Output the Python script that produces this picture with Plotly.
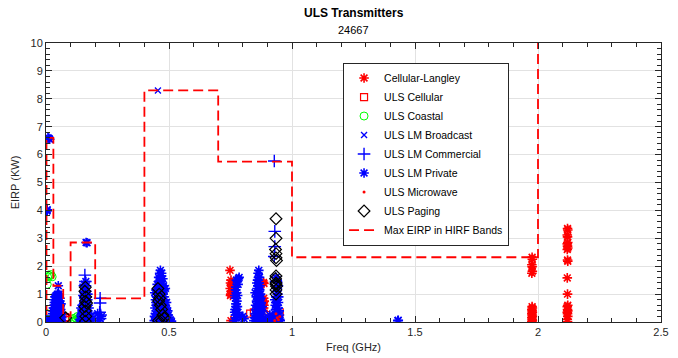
import plotly.graph_objects as go

# ---------------- data ----------------
langley_x = [0.748, 0.752, 0.750, 0.754, 0.749, 0.753, 0.751, 0.750, 0.752,
             0.884, 0.886, 0.885, 0.887, 0.884, 0.886, 0.885,
             1.976, 1.977, 1.975, 1.976, 1.977, 1.975, 1.976, 1.977, 1.975,
             1.976, 1.977, 1.975, 1.976, 1.977, 1.975, 1.976, 1.977, 1.975,
             2.120, 2.121, 2.119, 2.120, 2.121, 2.119, 2.120, 2.121, 2.119,
             2.120, 2.121, 2.119, 2.120, 2.121, 2.119, 2.120, 2.121, 2.119,
             2.120, 2.121, 2.119, 2.120]
langley_y = [1.85, 1.50, 1.40, 1.35, 1.20, 1.10, 1.00, 0.95, 0.05,
             1.42, 1.38, 0.85, 0.75, 0.70, 0.60, 0.50,
             2.32, 2.25, 2.05, 1.98, 1.82, 1.75, 0.55, 0.50, 0.45,
             0.40, 0.35, 0.30, 0.25, 0.20, 0.15, 0.10, 0.05, 0.02,
             3.35, 3.30, 3.12, 3.05, 2.85, 2.80, 2.72, 2.65, 2.60,
             2.22, 2.18, 1.58, 1.00, 0.60, 0.55, 0.45, 0.40, 0.35,
             0.30, 0.20, 0.10, 0.02]

cellular_x = [0.077, 0.082, 0.830, 0.845, 0.860, 0.875, 0.885, 0.895, 0.940, 0.950, 0.945]
cellular_y = [0.18, 0.15, 0.30, 0.35, 0.22, 0.38, 0.30, 0.25, 0.10, 0.35, 0.05]

coastal_x = [0.003, 0.004, 0.005, 0.006, 0.010, 0.015, 0.020, 0.025,
             0.110, 0.115, 0.120, 0.125, 0.130, 0.135, 0.140, 0.128, 0.138, 0.145, 0.118]
coastal_y = [0.30, 0.10, 1.35, 1.62, 1.68, 1.65, 1.70, 1.62,
             0.12, 0.05, 0.15, 0.08, 0.05, 0.12, 0.03, 0.20, 0.08, 0.05, 0.02]

broadcast_x = [0.455, 0.010]
broadcast_y = [8.30, 6.60]

commercial_x = [0.928, 0.930, 0.930, 0.928, 0.935, 0.158, 0.160, 0.158,
                0.220, 0.220, 0.218, 0.222, 0.220, 0.160]
commercial_y = [5.77, 3.25, 2.70, 2.35, 1.45, 1.68, 1.45, 1.30,
                0.85, 0.68, 0.35, 0.25, 0.12, 0.90]

private_x = [0.003, 0.005, 0.004, 0.008, 0.012, 0.015, 0.002, 0.003, 0.004,
             # 0.02-0.07 GHz cluster
             0.025, 0.030, 0.028, 0.032, 0.035, 0.038, 0.040, 0.042, 0.045, 0.048,
             0.050, 0.052, 0.055, 0.058, 0.060, 0.062, 0.064, 0.040, 0.045, 0.050,
             0.055, 0.060, 0.035, 0.048, 0.052, 0.058, 0.050, 0.033, 0.043, 0.057,
             0.022, 0.027, 0.030, 0.034, 0.037, 0.041, 0.046, 0.053, 0.056, 0.061,
             0.063, 0.066, 0.036, 0.044, 0.049, 0.054, 0.039, 0.047, 0.052, 0.059,
             # 0.14-0.19 GHz cluster
             0.140, 0.145, 0.150, 0.155, 0.160, 0.162, 0.165, 0.170, 0.175, 0.178,
             0.142, 0.148, 0.152, 0.158, 0.168, 0.172, 0.155, 0.160, 0.165, 0.150,
             0.170, 0.163, 0.167,
             0.138, 0.143, 0.147, 0.153, 0.157, 0.161, 0.164, 0.166, 0.169, 0.173,
             0.176, 0.180, 0.156, 0.159, 0.163, 0.154, 0.184, 0.186,
             0.215, 0.220, 0.225, 0.210,
             # 0.44-0.51 GHz cluster
             0.440, 0.445, 0.450, 0.450, 0.455, 0.460, 0.465, 0.465, 0.470, 0.475,
             0.460, 0.470, 0.475, 0.480, 0.485, 0.490, 0.495, 0.500, 0.505, 0.510,
             0.445, 0.455, 0.465, 0.470, 0.480, 0.485, 0.490, 0.452, 0.442, 0.478,
             0.495, 0.448,
             0.441, 0.443, 0.447, 0.449, 0.451, 0.454, 0.457, 0.459, 0.461, 0.463,
             0.466, 0.468, 0.469, 0.472, 0.474, 0.476, 0.479, 0.482, 0.484, 0.487,
             0.489, 0.492, 0.497, 0.502, 0.458, 0.462, 0.467, 0.480, 0.472,
             # 0.76-0.79 GHz column
             0.765, 0.770, 0.768, 0.772, 0.770, 0.775, 0.772, 0.778, 0.782, 0.785,
             0.775, 0.778, 0.780, 0.768, 0.776, 0.771,
             0.767, 0.773, 0.779, 0.781, 0.774,
             0.795, 0.805, 0.800,
             # 0.845-0.88 GHz cluster
             0.845, 0.850, 0.852, 0.855, 0.858, 0.860, 0.862, 0.865, 0.868, 0.870,
             0.872, 0.875, 0.878, 0.880, 0.850, 0.855, 0.860, 0.865, 0.870, 0.857,
             0.863, 0.867, 0.873,
             0.848, 0.853, 0.856, 0.859, 0.861, 0.864, 0.866, 0.869, 0.871, 0.874,
             0.877, 0.879, 0.862, 0.868,
             0.900, 0.905, 0.910, 0.915, 0.920,
             # 0.925-0.95 GHz cluster
             0.925, 0.930, 0.932, 0.935, 0.937, 0.940, 0.935, 0.942, 0.945, 0.948,
             0.950, 0.940, 0.930, 0.945,
             0.927, 0.933, 0.936, 0.938, 0.941, 0.943, 0.946, 0.949, 0.952, 0.938,
             1.430, 1.432]
private_y = [4.00, 4.02, 3.98, 6.60, 6.58, 6.55, 0.05, 0.10, 0.02,
             0.05, 0.20, 0.40, 0.60, 0.10, 0.30, 0.50, 0.70, 0.85, 0.95,
             1.00, 0.90, 0.75, 0.60, 0.45, 0.30, 0.15, 0.02, 0.25, 0.40,
             0.20, 0.05, 0.45, 0.65, 0.55, 0.35, 1.30, 0.80, 0.12, 0.85,
             0.10, 0.30, 0.50, 0.70, 0.90, 0.95, 1.00, 0.98, 0.50, 0.65,
             0.05, 0.20, 0.25, 0.40, 0.15, 0.35, 0.60, 0.80, 0.70, 0.20,
             0.05, 0.30, 0.60, 0.90, 1.20, 1.45, 1.10, 0.80, 0.50, 0.20,
             0.50, 0.15, 0.40, 0.70, 0.35, 0.05, 1.35, 0.25, 0.60, 0.95,
             1.00, 2.85, 2.84,
             0.10, 0.25, 0.45, 0.65, 0.85, 1.05, 1.30, 0.90, 0.60, 0.30,
             0.10, 0.05, 0.50, 0.15, 0.75, 1.10, 0.20, 0.05,
             0.05, 0.12, 0.20, 0.30,
             0.05, 0.30, 0.60, 0.90, 1.20, 1.45, 1.65, 1.85, 1.75, 1.55,
             1.00, 0.70, 0.40, 0.15, 0.50, 0.25, 0.05, 0.15, 0.08, 0.03,
             0.80, 0.45, 0.20, 1.10, 0.90, 1.20, 0.70, 1.35, 1.05, 1.30,
             0.40, 0.15,
             0.20, 0.50, 0.70, 1.00, 1.15, 0.35, 0.65, 0.85, 1.25, 0.10,
             0.55, 0.35, 0.95, 0.60, 0.20, 1.00, 0.50, 0.30, 0.70, 0.10,
             0.45, 0.15, 0.25, 0.05, 1.60, 1.75, 1.50, 1.15, 1.35,
             0.05, 0.25, 0.45, 0.65, 0.85, 1.05, 1.25, 1.45, 1.55, 1.60,
             0.15, 0.55, 0.35, 0.95, 0.75, 1.15,
             0.35, 0.55, 0.95, 1.35, 1.50,
             0.15, 0.12, 0.20,
             0.05, 0.30, 0.60, 0.90, 1.20, 1.50, 1.75, 1.85, 1.60, 1.30,
             1.00, 0.70, 0.40, 0.10, 1.05, 0.15, 0.45, 0.75, 0.20, 1.40,
             1.10, 0.55, 0.85,
             0.15, 0.45, 0.75, 1.00, 1.30, 1.60, 1.40, 1.15, 0.85, 0.55,
             0.25, 0.55, 0.05, 0.35,
             0.05, 0.15, 0.25, 0.10, 0.02,
             0.05, 0.30, 0.60, 0.90, 1.20, 1.50, 1.60, 1.00, 0.70, 0.40,
             0.10, 0.20, 0.80, 1.30,
             0.20, 0.45, 0.70, 1.10, 1.40, 0.50, 0.90, 0.25, 0.05, 0.05,
             0.05, 0.06]

microwave_x = [0.935, 0.940, 0.945, 0.930, 0.950]
microwave_y = [0.30, 0.15, 0.08, 0.05, 0.20]

paging_x = [0.080, 0.160, 0.158, 0.162, 0.160, 0.165, 0.158, 0.160, 0.162, 0.160,
            0.455, 0.460, 0.462, 0.458, 0.465, 0.470, 0.475, 0.480, 0.470, 0.458,
            0.935, 0.935, 0.933, 0.935, 0.935, 0.937, 0.935, 0.933, 0.935, 0.935,
            0.937, 0.935, 0.935]
paging_y = [0.15, 1.25, 1.10, 0.90, 0.75, 0.68, 0.55, 0.40, 0.20, 0.03,
            1.20, 1.00, 0.85, 0.75, 0.60, 0.45, 0.25, 0.15, 0.05, 0.05,
            3.70, 3.00, 2.60, 2.45, 2.30, 2.20, 1.65, 1.55, 1.40, 1.35,
            1.28, 1.15, 1.00]

# HIRF band edges (GHz) and max EIRP (KW) per band (step line, drawn 'hv')
hirf_x = [0.002, 0.002, 0.03, 0.07, 0.10, 0.20, 0.40, 0.70, 1.00, 2.00]
hirf_y = [0.25, 6.60, 1.30, 0.20, 2.85, 0.85, 8.30, 5.75, 2.32, 20.0]

x_ticks = [0, 0.5, 1, 1.5, 2, 2.5]
x_tick_labels = ["0", "0.5", "1", "1.5", "2", "2.5"]
y_ticks = list(range(0, 11))

# ---------------- figure ----------------
RED, BLUE, GREEN, BLACK = "#ff0000", "#0000ff", "#00ff00", "#000000"
FONT = "Liberation Sans, Arial, Helvetica, sans-serif"

fig = go.Figure()

def add(name, x, y, symbol, color, size, lw=1.0):
    marker = dict(symbol=symbol, size=size, color=color,
                  line=dict(color=color, width=lw))
    fig.add_trace(go.Scatter(x=x, y=y, mode="markers", name=name, marker=marker,
                             cliponaxis=True))

add("Cellular-Langley", langley_x, langley_y, "asterisk-open", RED, 8, 1.6)
add("ULS Cellular", cellular_x, cellular_y, "square-open", RED, 7, 1.2)
add("ULS Coastal", coastal_x, coastal_y, "circle-open", GREEN, 8, 1.0)
add("ULS LM Broadcast", broadcast_x, broadcast_y, "x-thin-open", BLUE, 6, 1.3)
add("ULS LM Commercial", commercial_x, commercial_y, "cross-thin-open", BLUE, 9, 1.4)
add("ULS LM Private", private_x, private_y, "asterisk-open", BLUE, 8, 1.6)
add("ULS Microwave", microwave_x, microwave_y, "circle", RED, 3, 0)
add("ULS Paging", paging_x, paging_y, "diamond-open", BLACK, 9, 1.2)

fig.add_trace(go.Scatter(x=hirf_x, y=hirf_y, mode="lines", name="Max EIRP in HIRF Bands",
                         line=dict(color=RED, width=1.8, dash="10px,5px", shape="hv")))

axis_common = dict(
    showline=True, linecolor="#262626", linewidth=1, mirror="ticks",
    ticks="inside", ticklen=6, tickcolor="#262626", tickwidth=1,
    showgrid=True, gridcolor="#e2e2e2", gridwidth=1, zeroline=False,
    tickfont=dict(family=FONT, size=11, color="#262626"),
    automargin=False,
)

fig.update_xaxes(range=[0, 2.5], tickvals=x_ticks, ticktext=x_tick_labels,
                 minor=dict(ticks="inside", dtick=0.1, ticklen=4, tickcolor="#262626", showgrid=False),
                 title=dict(text="Freq (GHz)", font=dict(family=FONT, size=11, color="#262626"), standoff=6),
                 **axis_common)
fig.update_yaxes(range=[0, 10], tickvals=y_ticks,
                 minor=dict(ticks="inside", dtick=0.2, ticklen=4, tickcolor="#262626", showgrid=False),
                 title=dict(text="EIRP (KW)", font=dict(family=FONT, size=11, color="#262626"), standoff=8),
                 **axis_common)

fig.update_layout(
    width=678, height=358,
    margin=dict(l=46, r=17, t=43, b=36),
    paper_bgcolor="white", plot_bgcolor="white",
    font=dict(family=FONT, size=11, color="#262626"),
    showlegend=True,
    legend=dict(x=0.483, y=0.93, xanchor="left", yanchor="top",
                bgcolor="white", bordercolor="#262626", borderwidth=1,
                font=dict(family=FONT, size=10.5, color="#000000"),
                itemwidth=30, tracegroupgap=0),
    annotations=[
        dict(text="<b>ULS Transmitters</b>", xref="paper", yref="paper", x=0.5, y=1.1075,
             xanchor="center", yanchor="middle", showarrow=False,
             font=dict(family=FONT, size=12, color="#000000")),
        dict(text="24667", xref="paper", yref="paper", x=0.5, y=1.047,
             xanchor="center", yanchor="middle", showarrow=False,
             font=dict(family=FONT, size=11, color="#000000")),
    ],
)

fig.write_html("out.html")
